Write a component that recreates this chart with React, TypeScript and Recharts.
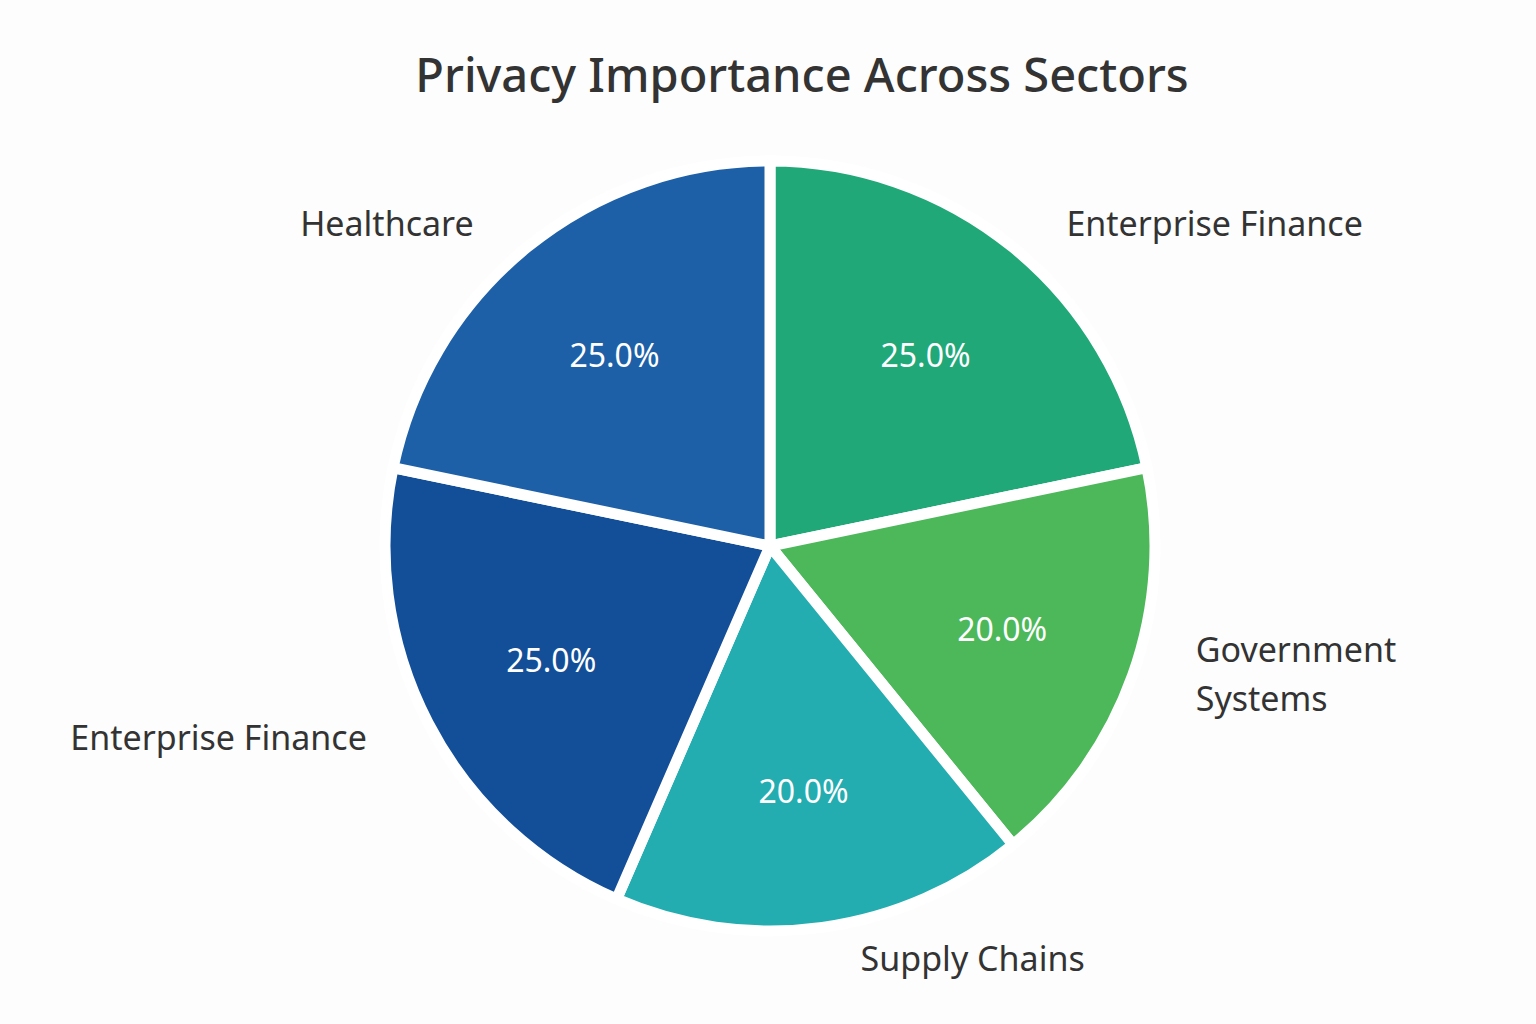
import React from "react";
import { PieChart, Pie, Cell } from "recharts";

const categories = ["Enterprise Finance", "Government\nSystems", "Supply Chains", "Enterprise Finance", "Healthcare"];
const shares = [25, 20, 20, 25, 25];
const colors = ["#20a878", "#4cb85a", "#23adb0", "#134f98", "#1d60a7"];
const title = "Privacy Importance Across Sectors";

const data = categories.map((name, i) => ({ name, value: shares[i] }));

const FONT = "'Noto Sans', 'Open Sans', sans-serif";
const RAD = Math.PI / 180;

const renderLabel = (props: any) => {
  const { cx, cy, midAngle, outerRadius, index } = props;
  const cos = Math.cos(-midAngle * RAD);
  const sin = Math.sin(-midAngle * RAD);
  const ir = outerRadius * 0.64;
  const ix = cx + ir * cos;
  const iy = cy + ir * sin;
  const orr = outerRadius * 1.08;
  const side = cos >= 0 ? 1 : -1;
  const ox = cx + orr * cos + side * 34;
  const oy = cy + orr * sin;
  const lines = String(categories[index]).split("\n");
  const lh = 49;
  const startY = oy - ((lines.length - 1) * lh) / 2 - (lines.length - 1) * 12;
  return (
    <g>
      <text x={ix} y={iy} fill="#ffffff" fontSize={32} fontFamily={FONT} textAnchor="middle" dominantBaseline="central">
        {shares[index].toFixed(1) + "%"}
      </text>
      <text x={ox} y={startY} fill="#333333" fontSize={34} fontFamily={FONT} textAnchor={side > 0 ? "start" : "end"} dominantBaseline="central">
        {lines.map((l, k) => (
          <tspan key={k} x={ox} y={startY + k * lh}>{l}</tspan>
        ))}
      </text>
    </g>
  );
};

export default function App() {
  return (
    <div style={{ position: "absolute", left: 0, top: 0, width: 1536, height: 1024, background: "#fdfdfd" }}>
      <svg width={1536} height={130} style={{ position: "absolute", left: 0, top: 0 }}>
        <text x={802} y={74} textAnchor="middle" dominantBaseline="central" fontSize={47} fontWeight={500} fill="#333333" fontFamily={FONT}>
          {title}
        </text>
      </svg>
      <div style={{ position: "absolute", left: 0, top: 0 }}>
        <PieChart width={1536} height={1024}>
          <Pie
            data={data}
            dataKey="value"
            nameKey="name"
            cx={765}
            cy={541}
            outerRadius={385}
            startAngle={90}
            endAngle={-270}
            stroke="#ffffff"
            strokeWidth={11}
            labelLine={false}
            label={renderLabel}
            isAnimationActive={false}
          >
            {data.map((d, i) => (
              <Cell key={i} fill={colors[i]} />
            ))}
          </Pie>
        </PieChart>
      </div>
    </div>
  );
}
